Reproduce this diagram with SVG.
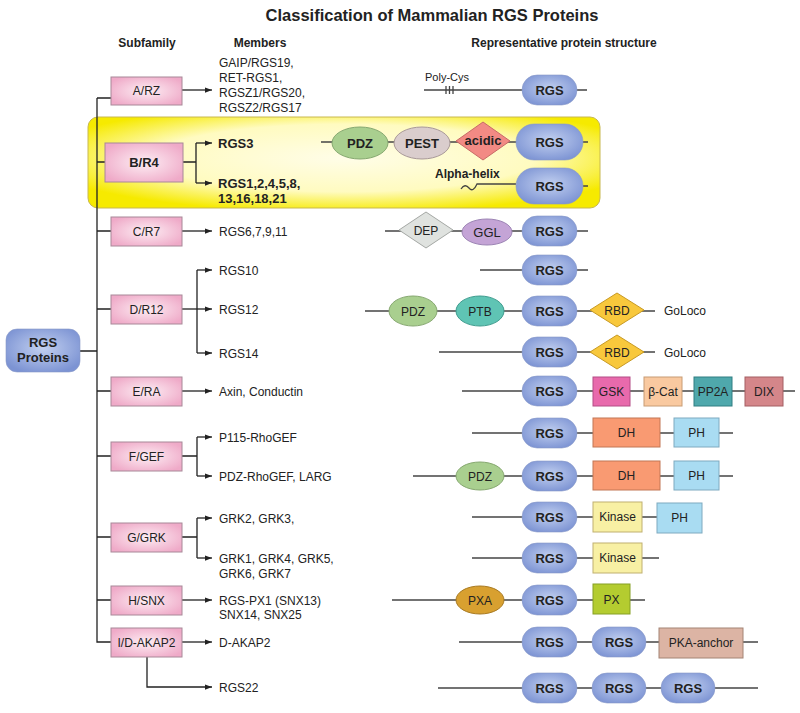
<svg xmlns="http://www.w3.org/2000/svg" width="800" height="713" viewBox="0 0 800 713">
<defs>
<radialGradient id="gPink" cx="50%" cy="50%" r="60%"><stop offset="0" stop-color="#fdeef4"/><stop offset="1" stop-color="#efaac8"/></radialGradient>
<radialGradient id="gBlue" cx="50%" cy="45%" r="60%"><stop offset="0" stop-color="#c2d0f0"/><stop offset="1" stop-color="#7c93d3"/></radialGradient>
<radialGradient id="gYellow" cx="50%" cy="45%" r="60%"><stop offset="0" stop-color="#fffde8"/><stop offset="0.62" stop-color="#fffbc0"/><stop offset="1" stop-color="#f6ea00"/></radialGradient>
<marker id="arr" viewBox="0 0 8 6" refX="8" refY="3" markerWidth="7" markerHeight="5.5" markerUnits="userSpaceOnUse" orient="auto"><path d="M0,0 L8,3 L0,6 z" fill="#222"/></marker>
</defs>
<style>
text{font-family:"Liberation Sans",Arial,sans-serif;fill:#222}
.title{font-size:16.5px;font-weight:bold;text-anchor:middle}
.hdr{font-size:12px;font-weight:bold;text-anchor:middle}
.mem{font-size:12px}
.memb{font-size:13px;font-weight:bold}
.lbl{font-size:12px;text-anchor:middle}
.lblb{font-size:13px;font-weight:bold;text-anchor:middle}
.dom{font-size:12px;text-anchor:middle}
.domb{font-size:13px;font-weight:bold;text-anchor:middle}
.ln{stroke:#222;stroke-width:1.3;fill:none}
.ar{stroke:#222;stroke-width:1.3;fill:none;marker-end:url(#arr)}
.pl{stroke:#444;stroke-width:1.3;fill:none}
.box{fill:url(#gPink);stroke:#a88898;stroke-width:1}
.rgs{fill:url(#gBlue);stroke:#8898c8;stroke-width:0.6}
</style>
<rect width="800" height="713" fill="#fff"/>
<text class="title" x="432" y="21">Classification of Mammalian RGS Proteins</text>
<text class="hdr" x="147" y="47">Subfamily</text>
<text class="hdr" x="260" y="47">Members</text>
<text class="hdr" x="564" y="47">Representative protein structure</text>

<g id="highlight"><rect x="88" y="117" width="512" height="91" rx="10" fill="url(#gYellow)" stroke="#c8b850" stroke-width="1"/></g>

<g id="connectors">
<path class="ln" d="M97,98 V642 H111"/>
<path class="ln" d="M97,98 H111 M97,162 H105 M97,231 H111 M97,309 H111 M97,391 H111 M97,456 H111 M97,537 H111 M97,600 H111 M80,351 H97"/>
<path class="ar" d="M182,90 H212"/>
<path class="ln" d="M183,162 H196 M196,143 V183"/>
<path class="ar" d="M196,143 H212"/><path class="ar" d="M196,183 H212"/>
<path class="ar" d="M182,231 H212"/>
<path class="ln" d="M197,270 V353"/>
<path class="ar" d="M182,309 H212"/><path class="ar" d="M197,270 H212"/><path class="ar" d="M197,353 H212"/>
<path class="ar" d="M182,391 H212"/>
<path class="ln" d="M182,456 H197 M197,437 V476"/>
<path class="ar" d="M197,437 H212"/><path class="ar" d="M197,476 H212"/>
<path class="ln" d="M182,537 H197 M197,518 V558"/>
<path class="ar" d="M197,518 H212"/><path class="ar" d="M197,558 H212"/>
<path class="ar" d="M182,600 H212"/>
<path class="ar" d="M182,642 H212"/>
<path class="ar" d="M147,657 V687 H212"/>
</g>

<g id="root"><rect x="6" y="329" width="74" height="43" rx="11" class="rgs"/><text class="lblb" x="43" y="347">RGS</text><text class="lblb" x="43" y="362">Proteins</text></g>

<g id="sf-A"><rect class="box" x="111" y="77" width="71" height="28"/><text class="lbl" x="146.5" y="95">A/RZ</text></g>
<g id="sf-B"><rect class="box" x="105" y="143" width="78" height="39"/><text class="lblb" x="144" y="167">B/R4</text></g>
<g id="sf-C"><rect class="box" x="111" y="217" width="71" height="29"/><text class="lbl" x="146.5" y="235.5">C/R7</text></g>
<g id="sf-D"><rect class="box" x="111" y="295" width="71" height="29"/><text class="lbl" x="146.5" y="313.5">D/R12</text></g>
<g id="sf-E"><rect class="box" x="111" y="377" width="71" height="29"/><text class="lbl" x="146.5" y="395.5">E/RA</text></g>
<g id="sf-F"><rect class="box" x="111" y="442" width="71" height="29"/><text class="lbl" x="146.5" y="460.5">F/GEF</text></g>
<g id="sf-G"><rect class="box" x="111" y="523" width="71" height="29"/><text class="lbl" x="146.5" y="541.5">G/GRK</text></g>
<g id="sf-H"><rect class="box" x="111" y="586" width="71" height="29"/><text class="lbl" x="146.5" y="604.5">H/SNX</text></g>
<g id="sf-I"><rect class="box" x="111" y="628" width="71" height="29"/><text class="lbl" x="146.5" y="646.5">I/D-AKAP2</text></g>

<g id="members">
<text class="mem" x="219" y="67">GAIP/RGS19,</text>
<text class="mem" x="219" y="82">RET-RGS1,</text>
<text class="mem" x="219" y="97">RGSZ1/RGS20,</text>
<text class="mem" x="219" y="112">RGSZ2/RGS17</text>
<text class="memb" x="218" y="147.5">RGS3</text>
<text class="memb" x="218" y="188">RGS1,2,4,5,8,</text>
<text class="memb" x="218" y="202.5">13,16,18,21</text>
<text class="mem" x="219" y="235.5">RGS6,7,9,11</text>
<text class="mem" x="219" y="274.5">RGS10</text>
<text class="mem" x="219" y="313.5">RGS12</text>
<text class="mem" x="219" y="357.5">RGS14</text>
<text class="mem" x="219" y="395.5">Axin, Conductin</text>
<text class="mem" x="219" y="441.5">P115-RhoGEF</text>
<text class="mem" x="219" y="480.5">PDZ-RhoGEF, LARG</text>
<text class="mem" x="219" y="522.5">GRK2, GRK3,</text>
<text class="mem" x="219" y="562.5">GRK1, GRK4, GRK5,</text>
<text class="mem" x="219" y="577.5">GRK6, GRK7</text>
<text class="mem" x="219" y="605">RGS-PX1 (SNX13)</text>
<text class="mem" x="219" y="619">SNX14, SNX25</text>
<text class="mem" x="219" y="646.5">D-AKAP2</text>
<text class="mem" x="219" y="691.5">RGS22</text>
</g>

<g id="struct-A">
<path class="pl" d="M424,90 H587 M446,86 V94 M449.5,86 V94 M453,86 V94"/>
<text x="425" y="81" style="font-size:11px">Poly-Cys</text>
<rect class="rgs" x="522" y="75" width="55" height="30" rx="15"/><text class="domb" x="549.5" y="95">RGS</text>
</g>
<g id="struct-B1">
<path class="pl" d="M321,142 H588"/>
<ellipse cx="360" cy="143" rx="28" ry="16" fill="#a9cf8f" stroke="#86a870"/><text class="domb" x="360" y="148">PDZ</text>
<ellipse cx="422" cy="143" rx="28" ry="16" fill="#dacdcd" stroke="#a89898"/><text class="domb" x="422" y="148">PEST</text>
<path d="M456,141 L483,122 L510,141 L483,160 z" fill="#f28a84" stroke="#c86a66"/><text class="domb" x="483" y="145">acidic</text>
<rect class="rgs" x="516" y="124" width="67" height="36" rx="18"/><text class="domb" x="549.5" y="147">RGS</text>
</g>
<g id="struct-B2">
<path class="pl" d="M461,189 q4,-6 8,-1 q4,5 8,-4 L516,184 M583,186 H588"/>
<text x="435" y="178" style="font-size:12px;font-weight:bold">Alpha-helix</text>
<rect class="rgs" x="516" y="168" width="67" height="36" rx="18"/><text class="domb" x="549.5" y="191">RGS</text>
</g>
<g id="struct-C">
<path class="pl" d="M385,231 H588"/>
<path d="M399,230 L426,212 L453,230 L426,248 z" fill="#dfe2df" stroke="#a4a8a4"/><text class="dom" x="426" y="234.5">DEP</text>
<ellipse cx="487" cy="232" rx="25" ry="13" fill="#c4a4d6" stroke="#9c84b4"/><text class="dom" x="487" y="237" style="font-size:13px">GGL</text>
<rect class="rgs" x="522" y="216" width="55" height="30" rx="15"/><text class="domb" x="549.5" y="235.5">RGS</text>
</g>
<g id="struct-D10">
<path class="pl" d="M480,270 H588"/>
<rect class="rgs" x="522" y="255" width="55" height="30" rx="15"/><text class="domb" x="549.5" y="274.5">RGS</text>
</g>
<g id="struct-D12">
<path class="pl" d="M365,311 H655"/>
<ellipse cx="413" cy="311" rx="24" ry="15" fill="#a9cf8f" stroke="#86a870"/><text class="dom" x="413" y="315.5">PDZ</text>
<ellipse cx="480" cy="311" rx="24" ry="15" fill="#5fc4b4" stroke="#3e9c8e"/><text class="dom" x="480" y="315.5">PTB</text>
<rect class="rgs" x="522" y="296" width="55" height="30" rx="15"/><text class="domb" x="549.5" y="315.5">RGS</text>
<path d="M590,310 L617,293 L644,310 L617,327 z" fill="#f8c83c" stroke="#c89a24"/><text class="dom" x="617" y="314.5">RBD</text>
<text class="mem" x="664" y="315">GoLoco</text>
</g>
<g id="struct-D14">
<path class="pl" d="M439,352 H655"/>
<rect class="rgs" x="522" y="337" width="55" height="30" rx="15"/><text class="domb" x="549.5" y="356.5">RGS</text>
<path d="M590,352 L617,335 L644,352 L617,369 z" fill="#f8c83c" stroke="#c89a24"/><text class="dom" x="617" y="356.5">RBD</text>
<text class="mem" x="664" y="356.5">GoLoco</text>
</g>
<g id="struct-E">
<path class="pl" d="M462,391 H795"/>
<rect class="rgs" x="522" y="376" width="55" height="30" rx="15"/><text class="domb" x="549.5" y="395.5">RGS</text>
<rect x="593" y="377" width="37" height="29" fill="#e86aac" stroke="#b44c86"/><text class="dom" x="611.5" y="395.5">GSK</text>
<rect x="644" y="377" width="38" height="29" fill="#f9c9a0" stroke="#c89c74"/><text class="dom" x="663" y="395.5">β-Cat</text>
<rect x="694" y="377" width="38" height="29" fill="#4fa8ac" stroke="#307e82"/><text class="dom" x="713" y="395.5">PP2A</text>
<rect x="745" y="377" width="38" height="29" fill="#d4868a" stroke="#a45e62"/><text class="dom" x="764" y="395.5">DIX</text>
</g>
<g id="struct-F1">
<path class="pl" d="M472,433 H733"/>
<rect class="rgs" x="522" y="418" width="55" height="30" rx="15"/><text class="domb" x="549.5" y="437.5">RGS</text>
<rect x="593" y="418" width="67" height="29" fill="#f99a72" stroke="#c27654"/><text class="dom" x="626.5" y="437">DH</text>
<rect x="674" y="418" width="45" height="29" fill="#a9dcf2" stroke="#7eaac0"/><text class="dom" x="696.5" y="437">PH</text>
</g>
<g id="struct-F2">
<path class="pl" d="M413,476 H733"/>
<ellipse cx="480" cy="476" rx="24" ry="14" fill="#a9cf8f" stroke="#86a870"/><text class="dom" x="480" y="480.5">PDZ</text>
<rect class="rgs" x="522" y="461" width="55" height="30" rx="15"/><text class="domb" x="549.5" y="480.5">RGS</text>
<rect x="593" y="461" width="67" height="29" fill="#f99a72" stroke="#c27654"/><text class="dom" x="626.5" y="480">DH</text>
<rect x="674" y="461" width="45" height="29" fill="#a9dcf2" stroke="#7eaac0"/><text class="dom" x="696.5" y="480">PH</text>
</g>
<g id="struct-G1">
<path class="pl" d="M472,517 H660"/>
<rect class="rgs" x="522" y="502" width="55" height="30" rx="15"/><text class="domb" x="549.5" y="521.5">RGS</text>
<rect x="593" y="502" width="49" height="30" fill="#f8f0a4" stroke="#c0b070"/><text class="dom" x="617.5" y="521">Kinase</text>
<rect x="657" y="503" width="45" height="30" fill="#a9dcf2" stroke="#7eaac0"/><text class="dom" x="679.5" y="522">PH</text>
</g>
<g id="struct-G2">
<path class="pl" d="M472,558 H659"/>
<rect class="rgs" x="522" y="543" width="55" height="30" rx="15"/><text class="domb" x="549.5" y="562.5">RGS</text>
<rect x="593" y="543" width="49" height="30" fill="#f8f0a4" stroke="#c0b070"/><text class="dom" x="617.5" y="562">Kinase</text>
</g>
<g id="struct-H">
<path class="pl" d="M392,600 H645"/>
<ellipse cx="480" cy="600" rx="24" ry="14" fill="#d8a030" stroke="#a87a22"/><text class="dom" x="480" y="604.5">PXA</text>
<rect class="rgs" x="522" y="585" width="55" height="30" rx="15"/><text class="domb" x="549.5" y="604.5">RGS</text>
<rect x="593" y="584" width="37" height="30" fill="#b4cc30" stroke="#86a024"/><text class="dom" x="611.5" y="603.5">PX</text>
</g>
<g id="struct-I">
<path class="pl" d="M459,642 H758"/>
<rect class="rgs" x="522" y="627" width="55" height="30" rx="15"/><text class="domb" x="549.5" y="646.5">RGS</text>
<rect class="rgs" x="592" y="627" width="54" height="30" rx="15"/><text class="domb" x="619" y="646.5">RGS</text>
<rect x="659" y="628" width="84" height="30" fill="#dcb4a4" stroke="#a48474"/><text class="dom" x="701" y="647">PKA-anchor</text>
</g>
<g id="struct-RGS22">
<path class="pl" d="M438,688 H758"/>
<rect class="rgs" x="522" y="673" width="55" height="30" rx="15"/><text class="domb" x="549.5" y="692.5">RGS</text>
<rect class="rgs" x="592" y="673" width="54" height="30" rx="15"/><text class="domb" x="619" y="692.5">RGS</text>
<rect class="rgs" x="661" y="673" width="54" height="30" rx="15"/><text class="domb" x="688" y="692.5">RGS</text>
</g>
</svg>
